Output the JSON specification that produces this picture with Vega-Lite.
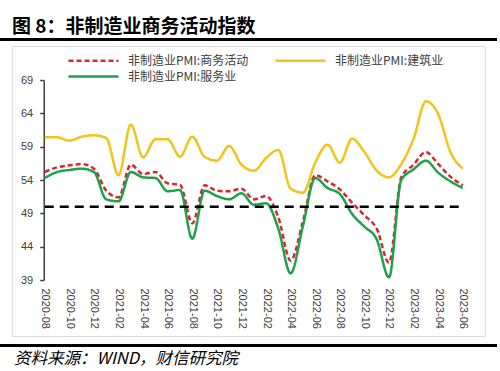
{
  "$schema": "https://vega.github.io/schema/vega-lite/v6.json",
  "padding": {"left": 0, "top": 18, "right": 0, "bottom": 0},
  "background": "white",
  "datasets": {
    "ref": [{"from": "2020-08", "to": "2023-06", "value": 50}],
    "pmi": [
      {"month": "2020-08", "series": "非制造业PMI:商务活动", "value": 55.2},
      {"month": "2020-09", "series": "非制造业PMI:商务活动", "value": 55.9},
      {"month": "2020-10", "series": "非制造业PMI:商务活动", "value": 56.2},
      {"month": "2020-11", "series": "非制造业PMI:商务活动", "value": 56.4},
      {"month": "2020-12", "series": "非制造业PMI:商务活动", "value": 55.7},
      {"month": "2021-01", "series": "非制造业PMI:商务活动", "value": 52.4},
      {"month": "2021-02", "series": "非制造业PMI:商务活动", "value": 51.4},
      {"month": "2021-03", "series": "非制造业PMI:商务活动", "value": 56.3},
      {"month": "2021-04", "series": "非制造业PMI:商务活动", "value": 54.9},
      {"month": "2021-05", "series": "非制造业PMI:商务活动", "value": 55.2},
      {"month": "2021-06", "series": "非制造业PMI:商务活动", "value": 53.5},
      {"month": "2021-07", "series": "非制造业PMI:商务活动", "value": 53.3},
      {"month": "2021-08", "series": "非制造业PMI:商务活动", "value": 47.5},
      {"month": "2021-09", "series": "非制造业PMI:商务活动", "value": 53.2},
      {"month": "2021-10", "series": "非制造业PMI:商务活动", "value": 52.4},
      {"month": "2021-11", "series": "非制造业PMI:商务活动", "value": 52.3},
      {"month": "2021-12", "series": "非制造业PMI:商务活动", "value": 52.7},
      {"month": "2022-01", "series": "非制造业PMI:商务活动", "value": 51.1},
      {"month": "2022-02", "series": "非制造业PMI:商务活动", "value": 51.6},
      {"month": "2022-03", "series": "非制造业PMI:商务活动", "value": 48.4},
      {"month": "2022-04", "series": "非制造业PMI:商务活动", "value": 41.9},
      {"month": "2022-05", "series": "非制造业PMI:商务活动", "value": 47.8},
      {"month": "2022-06", "series": "非制造业PMI:商务活动", "value": 54.7},
      {"month": "2022-07", "series": "非制造业PMI:商务活动", "value": 53.8},
      {"month": "2022-08", "series": "非制造业PMI:商务活动", "value": 52.6},
      {"month": "2022-09", "series": "非制造业PMI:商务活动", "value": 50.6},
      {"month": "2022-10", "series": "非制造业PMI:商务活动", "value": 48.7},
      {"month": "2022-11", "series": "非制造业PMI:商务活动", "value": 46.7},
      {"month": "2022-12", "series": "非制造业PMI:商务活动", "value": 41.6},
      {"month": "2023-01", "series": "非制造业PMI:商务活动", "value": 54.4},
      {"month": "2023-02", "series": "非制造业PMI:商务活动", "value": 56.3},
      {"month": "2023-03", "series": "非制造业PMI:商务活动", "value": 58.2},
      {"month": "2023-04", "series": "非制造业PMI:商务活动", "value": 56.4},
      {"month": "2023-05", "series": "非制造业PMI:商务活动", "value": 54.5},
      {"month": "2023-06", "series": "非制造业PMI:商务活动", "value": 53.2},
      {"month": "2020-08", "series": "非制造业PMI:建筑业", "value": 60.4},
      {"month": "2020-09", "series": "非制造业PMI:建筑业", "value": 60.4},
      {"month": "2020-10", "series": "非制造业PMI:建筑业", "value": 59.9},
      {"month": "2020-11", "series": "非制造业PMI:建筑业", "value": 60.5},
      {"month": "2020-12", "series": "非制造业PMI:建筑业", "value": 60.7},
      {"month": "2021-01", "series": "非制造业PMI:建筑业", "value": 60.3},
      {"month": "2021-02", "series": "非制造业PMI:建筑业", "value": 54.7},
      {"month": "2021-03", "series": "非制造业PMI:建筑业", "value": 62.3},
      {"month": "2021-04", "series": "非制造业PMI:建筑业", "value": 57.4},
      {"month": "2021-05", "series": "非制造业PMI:建筑业", "value": 60.1},
      {"month": "2021-06", "series": "非制造业PMI:建筑业", "value": 60.1},
      {"month": "2021-07", "series": "非制造业PMI:建筑业", "value": 57.5},
      {"month": "2021-08", "series": "非制造业PMI:建筑业", "value": 60.5},
      {"month": "2021-09", "series": "非制造业PMI:建筑业", "value": 57.5},
      {"month": "2021-10", "series": "非制造业PMI:建筑业", "value": 56.9},
      {"month": "2021-11", "series": "非制造业PMI:建筑业", "value": 59.1},
      {"month": "2021-12", "series": "非制造业PMI:建筑业", "value": 56.3},
      {"month": "2022-01", "series": "非制造业PMI:建筑业", "value": 55.4},
      {"month": "2022-02", "series": "非制造业PMI:建筑业", "value": 57.3},
      {"month": "2022-03", "series": "非制造业PMI:建筑业", "value": 58.5},
      {"month": "2022-04", "series": "非制造业PMI:建筑业", "value": 52.7},
      {"month": "2022-05", "series": "非制造业PMI:建筑业", "value": 52.1},
      {"month": "2022-06", "series": "非制造业PMI:建筑业", "value": 56.6},
      {"month": "2022-07", "series": "非制造业PMI:建筑业", "value": 59.3},
      {"month": "2022-08", "series": "非制造业PMI:建筑业", "value": 56.6},
      {"month": "2022-09", "series": "非制造业PMI:建筑业", "value": 60.2},
      {"month": "2022-10", "series": "非制造业PMI:建筑业", "value": 58.2},
      {"month": "2022-11", "series": "非制造业PMI:建筑业", "value": 55.4},
      {"month": "2022-12", "series": "非制造业PMI:建筑业", "value": 54.4},
      {"month": "2023-01", "series": "非制造业PMI:建筑业", "value": 56.4},
      {"month": "2023-02", "series": "非制造业PMI:建筑业", "value": 60.2},
      {"month": "2023-03", "series": "非制造业PMI:建筑业", "value": 65.8},
      {"month": "2023-04", "series": "非制造业PMI:建筑业", "value": 63.9},
      {"month": "2023-05", "series": "非制造业PMI:建筑业", "value": 58.2},
      {"month": "2023-06", "series": "非制造业PMI:建筑业", "value": 55.7},
      {"month": "2020-08", "series": "非制造业PMI:服务业", "value": 54.3},
      {"month": "2020-09", "series": "非制造业PMI:服务业", "value": 55.2},
      {"month": "2020-10", "series": "非制造业PMI:服务业", "value": 55.5},
      {"month": "2020-11", "series": "非制造业PMI:服务业", "value": 55.7},
      {"month": "2020-12", "series": "非制造业PMI:服务业", "value": 55.2},
      {"month": "2021-01", "series": "非制造业PMI:服务业", "value": 51.1},
      {"month": "2021-02", "series": "非制造业PMI:服务业", "value": 50.8},
      {"month": "2021-03", "series": "非制造业PMI:服务业", "value": 55.2},
      {"month": "2021-04", "series": "非制造业PMI:服务业", "value": 54.4},
      {"month": "2021-05", "series": "非制造业PMI:服务业", "value": 54.3},
      {"month": "2021-06", "series": "非制造业PMI:服务业", "value": 52.3},
      {"month": "2021-07", "series": "非制造业PMI:服务业", "value": 52.5},
      {"month": "2021-08", "series": "非制造业PMI:服务业", "value": 45.2},
      {"month": "2021-09", "series": "非制造业PMI:服务业", "value": 52.4},
      {"month": "2021-10", "series": "非制造业PMI:服务业", "value": 51.6},
      {"month": "2021-11", "series": "非制造业PMI:服务业", "value": 51.1},
      {"month": "2021-12", "series": "非制造业PMI:服务业", "value": 52.0},
      {"month": "2022-01", "series": "非制造业PMI:服务业", "value": 50.3},
      {"month": "2022-02", "series": "非制造业PMI:服务业", "value": 50.5},
      {"month": "2022-03", "series": "非制造业PMI:服务业", "value": 46.7},
      {"month": "2022-04", "series": "非制造业PMI:服务业", "value": 40.0},
      {"month": "2022-05", "series": "非制造业PMI:服务业", "value": 47.1},
      {"month": "2022-06", "series": "非制造业PMI:服务业", "value": 54.3},
      {"month": "2022-07", "series": "非制造业PMI:服务业", "value": 52.8},
      {"month": "2022-08", "series": "非制造业PMI:服务业", "value": 51.9},
      {"month": "2022-09", "series": "非制造业PMI:服务业", "value": 48.9},
      {"month": "2022-10", "series": "非制造业PMI:服务业", "value": 47.0},
      {"month": "2022-11", "series": "非制造业PMI:服务业", "value": 45.1},
      {"month": "2022-12", "series": "非制造业PMI:服务业", "value": 39.4},
      {"month": "2023-01", "series": "非制造业PMI:服务业", "value": 54.0},
      {"month": "2023-02", "series": "非制造业PMI:服务业", "value": 55.6},
      {"month": "2023-03", "series": "非制造业PMI:服务业", "value": 56.9},
      {"month": "2023-04", "series": "非制造业PMI:服务业", "value": 55.1},
      {"month": "2023-05", "series": "非制造业PMI:服务业", "value": 53.8},
      {"month": "2023-06", "series": "非制造业PMI:服务业", "value": 52.8}
    ]
  },
  "spacing": 7,
  "vconcat": [
    {
      "spacing": 4,
      "center": true,
      "vconcat": [
        {
          "title": {"text": "图 8：非制造业商务活动指数", "anchor": "start", "font": "Noto Sans CJK SC", "fontSize": 19, "fontWeight": "bold", "color": "#000000", "offset": 1, "dx": 12},
          "width": 497,
          "height": 3,
          "view": {"fill": "#000000", "stroke": null},
          "data": {"values": []},
          "mark": "rule",
          "encoding": {}
        },
        {
          "width": 473,
          "height": 290,
          "view": {"stroke": "#d9d9d9", "strokeWidth": 1, "fill": "white"},
          "layer": [
            {
              "data": {"name": "pmi"},
              "mark": {"type": "line", "interpolate": "monotone", "strokeWidth": 2.5},
              "encoding": {
                "x": {
                  "field": "month", "type": "ordinal",
                  "scale": {"type": "point", "range": [33, 451], "padding": 0},
                  "axis": {
                    "title": null, "orient": "bottom", "offset": -56, "domain": false, "ticks": false,
                    "labelAngle": 90, "labelPadding": 8, "labelFont": "Liberation Sans", "labelFontSize": 11, "labelColor": "#404040",
                    "values": ["2020-08","2020-10","2020-12","2021-02","2021-04","2021-06","2021-08","2021-10","2021-12","2022-02","2022-04","2022-06","2022-08","2022-10","2022-12","2023-02","2023-04","2023-06"],
                    "grid": false
                  }
                },
                "y": {
                  "field": "value", "type": "quantitative",
                  "scale": {"domain": [39, 69], "range": [234, 34], "nice": false, "zero": false},
                  "axis": {
                    "title": null, "orient": "left", "offset": -32, "values": [39, 44, 49, 54, 59, 64, 69],
                    "grid": false, "domainColor": "#404040", "domainWidth": 1.5, "tickColor": "#404040", "tickWidth": 1.5, "tickSize": 4,
                    "labelPadding": 7, "labelFont": "Liberation Sans", "labelFontSize": 11, "labelColor": "#404040"
                  }
                },
                "color": {
                  "field": "series", "type": "nominal",
                  "scale": {"domain": ["非制造业PMI:商务活动", "非制造业PMI:服务业", "非制造业PMI:建筑业"], "range": ["#D7282F", "#1FA04B", "#F2C318"]},
                  "legend": {
                    "title": null, "orient": "none", "legendX": 87, "legendY": 16, "columns": 2, "columnPadding": 21, "rowPadding": 3,
                    "symbolType": "M-5,0H5", "symbolSize": 100, "symbolStrokeWidth": 2.5, "labelOffset": 28,
                    "labelFont": "Noto Sans CJK SC", "labelFontSize": 12, "labelColor": "#404040", "labelLimit": 300
                  }
                },
                "strokeDash": {
                  "field": "series", "type": "nominal",
                  "scale": {"domain": ["非制造业PMI:商务活动", "非制造业PMI:服务业", "非制造业PMI:建筑业"], "range": [[5, 3], [1, 0], [1, 0]]},
                  "legend": {
                    "title": null, "orient": "none", "legendX": 87, "legendY": 16, "columns": 2, "columnPadding": 21, "rowPadding": 3,
                    "symbolType": "M-5,0H5", "symbolSize": 100, "symbolStrokeWidth": 2.5, "labelOffset": 28,
                    "labelFont": "Noto Sans CJK SC", "labelFontSize": 12, "labelColor": "#404040", "labelLimit": 300
                  }
                }
              }
            },
            {
              "data": {"name": "ref"},
              "mark": {"type": "rule", "strokeDash": [9, 6], "strokeWidth": 2.5, "color": "#000000"},
              "encoding": {
                "x": {"field": "from", "type": "ordinal"},
                "x2": {"field": "to"},
                "y": {"field": "value", "type": "quantitative"}
              }
            }
          ]
        }
      ]
    },
    {
      "title": {"text": "资料来源：WIND，财信研究院", "orient": "bottom", "anchor": "start", "font": "Noto Sans CJK SC", "fontSize": 16.5, "fontStyle": "italic", "fontWeight": "normal", "color": "#000000", "offset": 4, "dx": 14},
      "width": 497,
      "height": 3,
      "view": {"fill": "#000000", "stroke": null},
      "data": {"values": []},
      "mark": "rule",
      "encoding": {}
    }
  ]
}
